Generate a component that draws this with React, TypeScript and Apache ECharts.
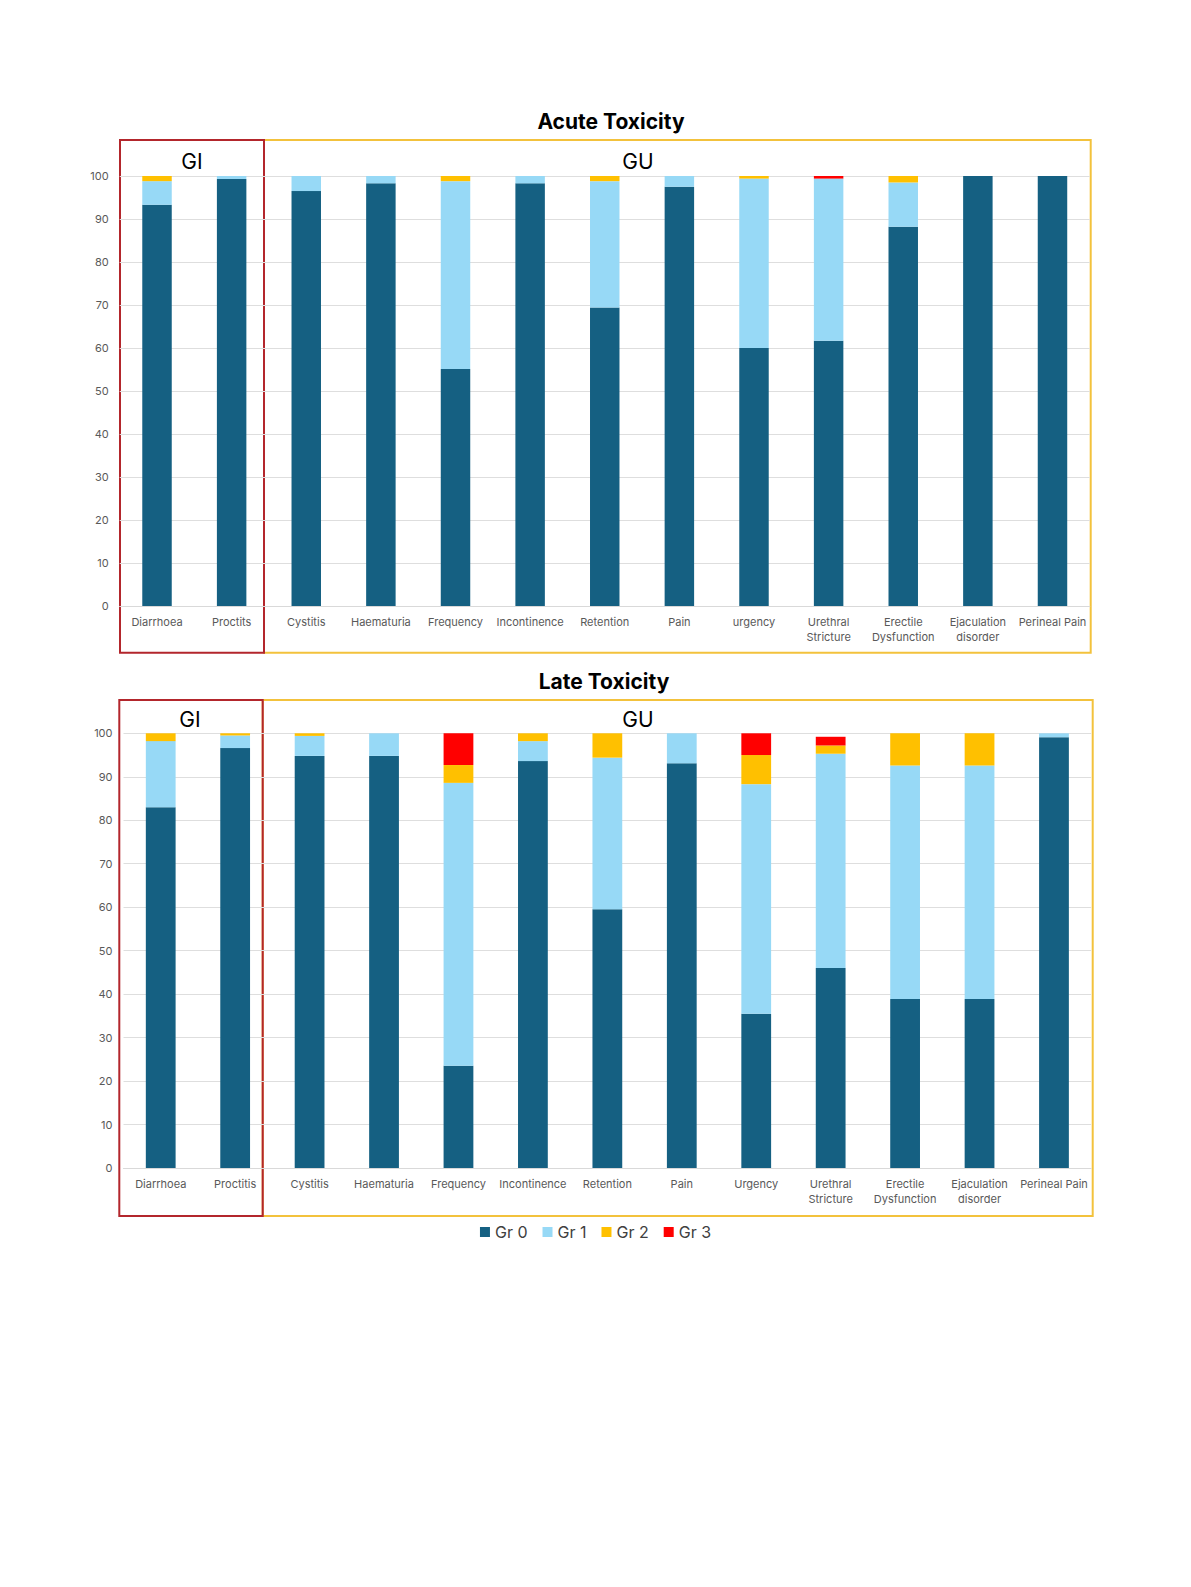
import React, { useEffect, useRef } from "react";
import * as echarts from "echarts";

const categoriesAcute = ["Diarrhoea", "Proctits", "Cystitis", "Haematuria", "Frequency", "Incontinence", "Retention", "Pain", "urgency", "Urethral\nStricture", "Erectile\nDysfunction", "Ejaculation\ndisorder", "Perineal Pain"];
const categoriesLate = ["Diarrhoea", "Proctitis", "Cystitis", "Haematuria", "Frequency", "Incontinence", "Retention", "Pain", "Urgency", "Urethral\nStricture", "Erectile\nDysfunction", "Ejaculation\ndisorder", "Perineal Pain"];

const gradeNames = ["Gr 0", "Gr 1", "Gr 2", "Gr 3"];
const gradeColors = ["#156082", "#97d9f6", "#ffc000", "#ff0000"];

const acuteGr0 = [93.3, 99.3, 96.5, 98.3, 55.1, 98.3, 69.4, 97.5, 60.0, 61.7, 88.2, 100, 100];
const acuteGr1 = [5.5, 0.7, 3.5, 1.7, 43.7, 1.7, 29.4, 2.5, 39.4, 37.7, 10.3, 0, 0];
const acuteGr2 = [1.2, 0, 0, 0, 1.2, 0, 1.2, 0, 0.6, 0, 1.5, 0, 0];
const acuteGr3 = [0, 0, 0, 0, 0, 0, 0, 0, 0, 0.6, 0, 0, 0];

const lateGr0 = [83.0, 96.6, 94.8, 94.8, 23.5, 93.6, 59.5, 93.1, 35.5, 46.0, 38.9, 38.9, 99.1];
const lateGr1 = [15.2, 2.9, 4.6, 5.2, 65.1, 4.6, 34.9, 6.9, 52.8, 49.3, 53.7, 53.7, 0.9];
const lateGr2 = [1.8, 0.5, 0.6, 0, 4.1, 1.8, 5.6, 0, 6.7, 1.9, 7.4, 7.4, 0];
const lateGr3 = [0, 0, 0, 0, 7.3, 0, 0, 0, 5.0, 2.0, 0, 0, 0];

const yTicks = { min: 0, max: 100, interval: 10 };

const FONT = "Inter, 'Liberation Sans', Arial, sans-serif";

export default function App() {
  const ref = useRef<HTMLDivElement>(null);

  useEffect(() => {
    document.body.style.margin = "0";
    if (!ref.current) return;
    const chart = echarts.init(ref.current, null, { renderer: "svg" });

    const acute = [acuteGr0, acuteGr1, acuteGr2, acuteGr3];
    const late = [lateGr0, lateGr1, lateGr2, lateGr3];

    const xAxisCommon = {
      type: "category" as const,
      axisTick: { show: false },
      axisLine: { show: true, lineStyle: { color: "#d9d9d9", width: 1 } },
      axisLabel: {
        interval: 0,
        color: "#595959",
        fontSize: 11,
        fontFamily: FONT,
        lineHeight: 15,
        margin: 8,
      },
    };
    const yAxisCommon = {
      type: "value" as const,
      min: yTicks.min,
      max: yTicks.max,
      interval: yTicks.interval,
      axisLine: { show: false },
      axisTick: { show: false },
      splitLine: { lineStyle: { color: "#dedede", width: 1 } },
      axisLabel: { color: "#595959", fontSize: 11, fontFamily: FONT, margin: 11 },
    };

    const series: any[] = [];
    acute.forEach((d, i) => {
      series.push({
        name: gradeNames[i],
        type: "bar",
        stack: "acute",
        xAxisIndex: 0,
        yAxisIndex: 0,
        barWidth: "39.5%",
        itemStyle: { color: gradeColors[i] },
        data: d,
      });
    });
    late.forEach((d, i) => {
      series.push({
        name: gradeNames[i],
        type: "bar",
        stack: "late",
        xAxisIndex: 1,
        yAxisIndex: 1,
        barWidth: "40%",
        itemStyle: { color: gradeColors[i] },
        data: d,
      });
    });

    const red = "#b3262c";
    const yellow = "#f3c23c";

    chart.setOption({
      animation: false,
      backgroundColor: "#ffffff",
      textStyle: { fontFamily: FONT },
      grid: [
        { left: 119.7, right: 1191 - 1089.8, top: 176, height: 430 },
        { left: 123.5, right: 1191 - 1091.2, top: 733.3, height: 434.7 },
      ],
      xAxis: [
        { ...xAxisCommon, gridIndex: 0, data: categoriesAcute },
        { ...xAxisCommon, gridIndex: 1, data: categoriesLate },
      ],
      yAxis: [
        { ...yAxisCommon, gridIndex: 0 },
        { ...yAxisCommon, gridIndex: 1 },
      ],
      legend: {
        data: gradeNames,
        left: "center",
        top: 1219,
        icon: "rect",
        itemWidth: 10,
        itemHeight: 10,
        itemGap: 15,
        textStyle: { color: "#404040", fontSize: 16, fontFamily: FONT },
      },
      graphic: [
        { type: "text", x: 611, y: 121, style: { text: "Acute Toxicity", fill: "#000", font: `bold 21px ${FONT}`, align: "center", verticalAlign: "middle" } },
        { type: "text", x: 604, y: 681, style: { text: "Late Toxicity", fill: "#000", font: `bold 21px ${FONT}`, align: "center", verticalAlign: "middle" } },
        { type: "rect", shape: { x: 264, y: 140, width: 1090.7 - 264, height: 512.7 }, style: { fill: "none", stroke: yellow, lineWidth: 2 } },
        { type: "rect", shape: { x: 120, y: 140, width: 144, height: 512.7 }, style: { fill: "none", stroke: red, lineWidth: 2 } },
        { type: "rect", shape: { x: 262.7, y: 700, width: 1092.7 - 262.7, height: 516 }, style: { fill: "none", stroke: yellow, lineWidth: 2 } },
        { type: "rect", shape: { x: 119.3, y: 700, width: 143.4, height: 516 }, style: { fill: "none", stroke: red, lineWidth: 2 } },
        { type: "text", x: 192, y: 161, style: { text: "GI", fill: "#000", font: `21px ${FONT}`, align: "center", verticalAlign: "middle" } },
        { type: "text", x: 638, y: 161, style: { text: "GU", fill: "#000", font: `21px ${FONT}`, align: "center", verticalAlign: "middle" } },
        { type: "text", x: 190, y: 719, style: { text: "GI", fill: "#000", font: `21px ${FONT}`, align: "center", verticalAlign: "middle" } },
        { type: "text", x: 638, y: 719, style: { text: "GU", fill: "#000", font: `21px ${FONT}`, align: "center", verticalAlign: "middle" } },
      ],
      series,
    });

    return () => chart.dispose();
  }, []);

  return <div ref={ref} style={{ width: 1191, height: 1587 }} />;
}
